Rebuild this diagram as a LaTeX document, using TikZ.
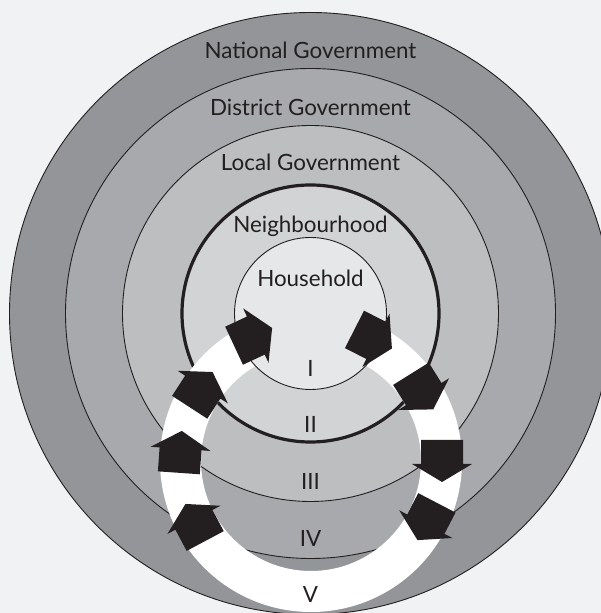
\documentclass[tikz,border=0pt]{standalone}
\usepackage{fontspec}
\setmainfont{Lato}
\definecolor{bg}{HTML}{F1F2F3}
\definecolor{natc}{HTML}{939598}
\definecolor{disc}{HTML}{A7A9AC}
\definecolor{locc}{HTML}{BCBEC0}
\definecolor{neic}{HTML}{D1D3D4}
\definecolor{houc}{HTML}{E6E7E8}
\definecolor{ink}{HTML}{231F20}
\tikzset{
  ring/.style={draw=ink, line width=0.9pt},
  lbl/.style={anchor=base, text=ink, inner sep=0pt, font=\fontsize{22.4}{26}\selectfont},
  blockarrow/.style={fill=ink, draw=none},
}
\newcommand{\flowarrow}[2]{%
  \begin{scope}[shift={(C)}, rotate=#1]
    \path[blockarrow] (#2-21,21) -- (#2+21,21) -- (#2+21,-3) -- (#2+30,-3) -- (#2,-21) -- (#2-30,-3) -- (#2-21,-3) -- cycle;
  \end{scope}}
\begin{document}
\begin{tikzpicture}[x=1pt,y=1pt]
\useasboundingbox (0,0) rectangle (601,613);
\clip (0,0) rectangle (601,613);
\fill[bg] (0,0) rectangle (601,613);
\coordinate (O) at (310.5,299.5);
\coordinate (C) at (311,152);
% concentric levels
\fill[natc] (O) circle[radius=301];
\draw[ring] (O) circle[radius=301];
\fill[disc] (O) circle[radius=245];
\draw[ring] (O) circle[radius=245];
\fill[locc] (O) circle[radius=188];
\draw[ring] (O) circle[radius=188];
\fill[neic] (O) circle[radius=128.5];
\draw[draw=ink, line width=3.2pt] (O) circle[radius=128.5];
% white flow ring
\fill[white, even odd rule] (C) circle[radius=151] (C) circle[radius=110];
% household
\fill[houc] (O) circle[radius=76];
\draw[ring] (O) circle[radius=76];
% arrows
\flowarrow{63}{137}
\flowarrow{32}{131}
\flowarrow{0}{131}
\flowarrow{-27.5}{131}
\flowarrow{208}{131}
\flowarrow{176}{131}
\flowarrow{147}{131}
\flowarrow{115}{137}
% labels
\node[lbl] (nat) at (310.5,554) {National Government};
\node[lbl] (dis) at (310.5,497) {District Government};
\node[lbl] (loc) at (310.5,442.5) {Local Government};
\node[lbl] (nei) at (310.5,380) {Neighbourhood};
\node[lbl] (hou) at (310.5,326.3) {Household};
\node[lbl] (l1) at (310.5,236) {I};
\node[lbl] (l2) at (310.5,180) {II};
\node[lbl] (l3) at (310.5,123) {III};
\node[lbl] (l4) at (310.5,66) {IV};
\node[lbl] (l5) at (310.5,10) {V};
\end{tikzpicture}
\end{document}
